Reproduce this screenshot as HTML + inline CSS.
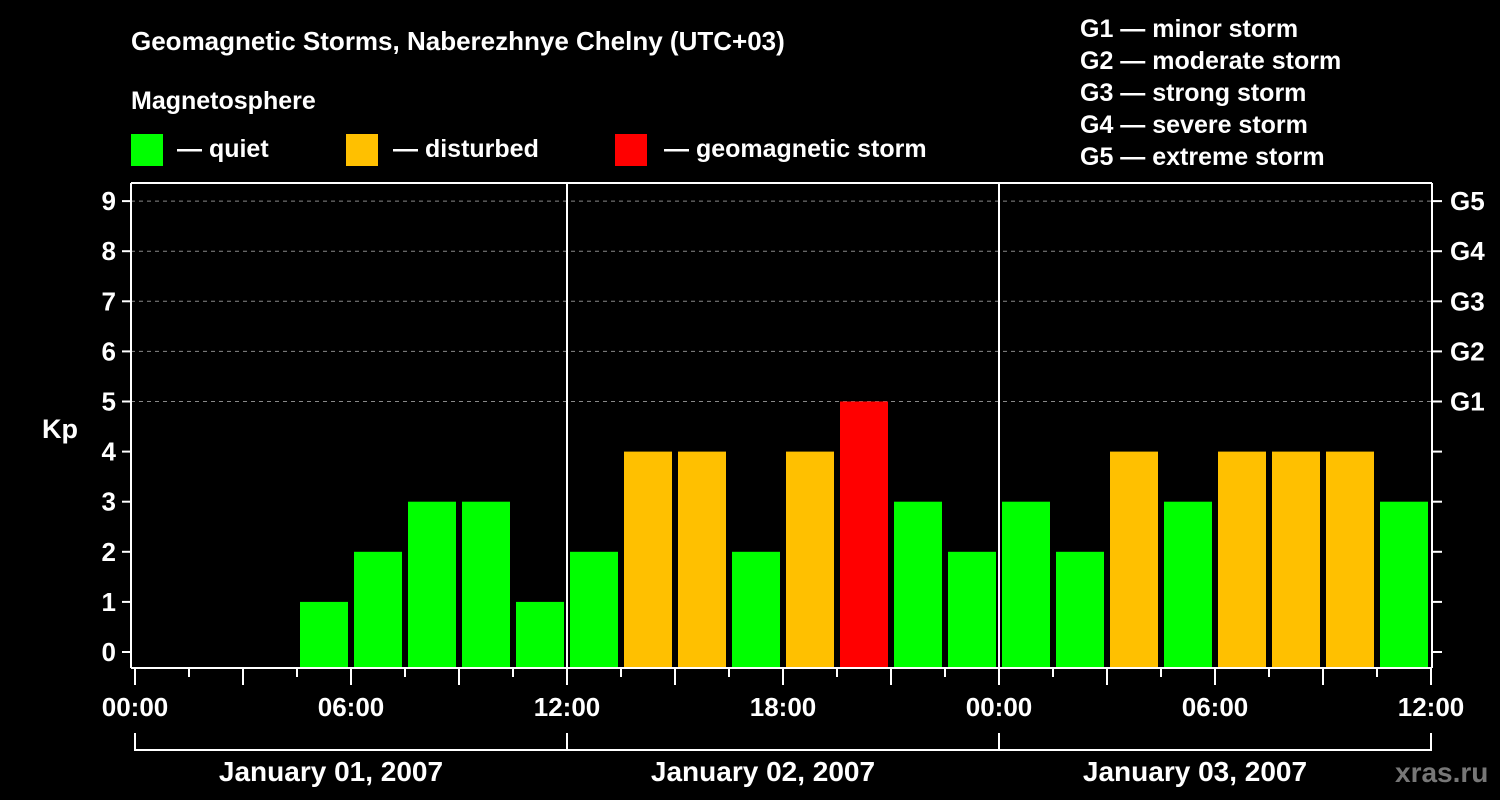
<!DOCTYPE html>
<html><head><meta charset="utf-8"><style>
html,body{margin:0;padding:0;background:#000;}
svg{display:block;font-family:"Liberation Sans",sans-serif;font-weight:bold;}
</style></head><body>
<svg id="chart" width="1500" height="800" viewBox="0 0 1500 800">
<rect width="1500" height="800" fill="#000"/>
<text x="131" y="50" fill="#fff" font-size="26">Geomagnetic Storms, Naberezhnye Chelny (UTC+03)</text>
<text x="131" y="109" fill="#fff" font-size="25">Magnetosphere</text>
<g><rect x="131" y="134" width="32" height="32" fill="#00ff00"/><text x="177" y="157" fill="#fff" font-size="25">— quiet</text></g>
<g><rect x="346" y="134" width="32" height="32" fill="#ffc000"/><text x="393" y="157" fill="#fff" font-size="25">— disturbed</text></g>
<g><rect x="615" y="134" width="32" height="32" fill="#ff0000"/><text x="664" y="157" fill="#fff" font-size="25">— geomagnetic storm</text></g>
<g fill="#fff" font-size="25">
<text x="1080" y="37">G1 — minor storm</text>
<text x="1080" y="69">G2 — moderate storm</text>
<text x="1080" y="101">G3 — strong storm</text>
<text x="1080" y="133">G4 — severe storm</text>
<text x="1080" y="165">G5 — extreme storm</text>
</g>
<text x="42" y="438" fill="#fff" font-size="27">Kp</text>
<text x="1395" y="782" fill="#777" font-size="28">xras.ru</text>
<g id="grid"></g><g id="bars"></g><g id="axes"></g>
</svg>
<script>
const days = ["January 01, 2007","January 02, 2007","January 03, 2007"];
const kpValues = [null,null,null,1,2,3,3,1, 2,4,4,2,4,5,3,2, 3,2,4,3,4,4,4,3];
const yTicks = [0,1,2,3,4,5,6,7,8,9];
const gLabels = ["G1","G2","G3","G4","G5"];
const hourLabels = ["00:00","06:00","12:00","18:00"];

const NS="http://www.w3.org/2000/svg";
const X0=135, DAYW=432, SLOT=54, Y0=652, UNIT=50.1, BOTTOM=668, TOP=183, LEFT=131, RIGHT=1432;
const xs = i => X0 + i*SLOT;
const ys = k => Y0 - k*UNIT;
function mk(tag, attrs, parent){const e=document.createElementNS(NS,tag);for(const k in attrs)e.setAttribute(k,attrs[k]);parent.appendChild(e);return e;}
const grid=document.getElementById('grid'), bars=document.getElementById('bars'), axes=document.getElementById('axes');

yTicks.forEach(k=>{
  if(k>=5){const l=mk('line',{x1:LEFT,x2:RIGHT,y1:ys(k),y2:ys(k),stroke:'#888','stroke-width':1,'stroke-dasharray':'4,4'},grid);
  
  }
  const t=mk('line',{x1:122,x2:LEFT,y1:ys(k),y2:ys(k),stroke:'#fff','stroke-width':2},axes);
  
  
  const tr=mk('line',{x1:RIGHT,x2:1442,y1:ys(k),y2:ys(k),stroke:'#fff','stroke-width':2},axes);
  
  
  const lb=mk('text',{x:116,y:ys(k)+9,fill:'#fff','font-size':26,'text-anchor':'end'},axes);
  lb.textContent=k;
  
  
});
gLabels.forEach((g,i)=>{
  const lb=mk('text',{x:1450,y:ys(5+i)+9,fill:'#fff','font-size':26},axes);
  lb.textContent=g;
  
  
});
kpValues.forEach((v,i)=>{
  if(v===null) return;
  const c = v>=5?'#ff0000':(v>=4?'#ffc000':'#00ff00');
  const r=mk('rect',{x:xs(i)+3,y:ys(v),width:48,height:BOTTOM-ys(v),fill:c},bars);
  
  
});
// frame
[[LEFT,TOP,RIGHT,TOP],[LEFT,TOP,LEFT,BOTTOM],[RIGHT,TOP,RIGHT,BOTTOM],[LEFT,BOTTOM,RIGHT,BOTTOM],[567,TOP,567,BOTTOM],[999,TOP,999,BOTTOM]].forEach(a=>{
  const l=mk('line',{x1:a[0],y1:a[1],x2:a[2],y2:a[3],stroke:'#fff','stroke-width':2},axes);
  
  
});
for(let i=0;i<=24;i++){
  const long=i%2===0;
  const t=mk('line',{x1:xs(i),x2:xs(i),y1:BOTTOM,y2:long?685:677,stroke:'#fff','stroke-width':2},axes);
  
  
  if(i%4===0){
    const lb=mk('text',{x:xs(i),y:716,fill:'#fff','font-size':26,'text-anchor':'middle'},axes);
    lb.textContent=hourLabels[(i/4)%4];
    
    
  }
}
days.forEach((d,i)=>{
  const x=X0+i*DAYW;
  const p=mk('path',{d:`M${x} 733 V750 H${x+DAYW}`+(i===days.length-1?' V733':''),stroke:'#fff','stroke-width':2,fill:'none'},axes);
  
  
  const lb=mk('text',{x:x+DAYW/2-20,y:781,fill:'#fff','font-size':28,'text-anchor':'middle'},axes);
  lb.textContent=d;
  
  
});
</script>
</body></html>
